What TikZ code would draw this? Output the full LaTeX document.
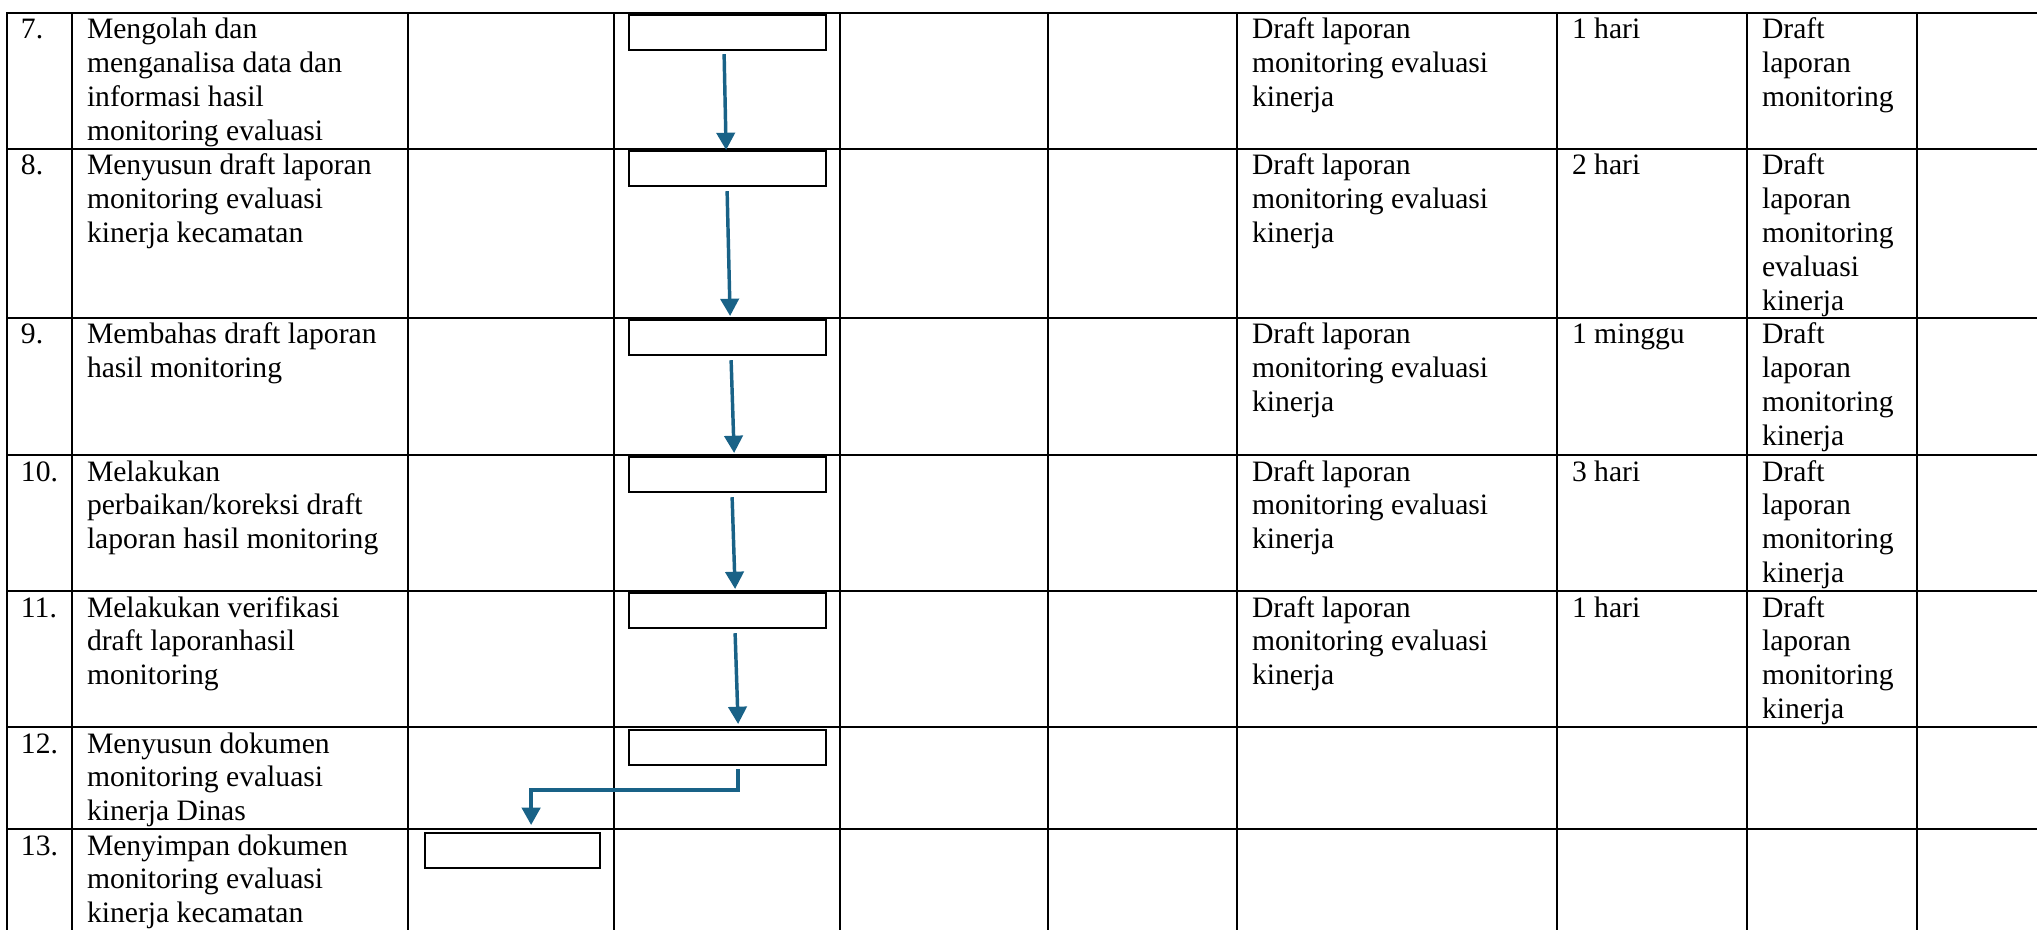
\documentclass[tikz,border=0pt]{standalone}
\usepackage{fontspec}
\setmainfont{Liberation Serif}
\usetikzlibrary{arrows.meta}
\newdimen\pxu
\pxu=0.405pt
\definecolor{flowblue}{RGB}{25,98,135}
\newcommand\celltxt[1]{\parbox[t]{160pt}{\raggedright #1}}
\begin{document}
\begin{tikzpicture}[x=0.405pt,y=-0.405pt,
  grid/.style={line width=1pt,black},
  txt/.style={anchor=base west,inner sep=0pt,outer sep=0pt,font=\fontsize{12}{13.75}\selectfont},
  pbox/.style={draw=black,line width=0.9pt,fill=white,rectangle,inner sep=0pt,anchor=north west,minimum height=35\pxu},
  arr/.style={draw=flowblue,line width=1.4pt,-{Triangle[width=7.4pt,length=7pt]}}]
\useasboundingbox (0,0) rectangle (2037,930);
% table grid
\foreach \yy in {13,149,318,455,591,727,829}
  \draw[grid] (7,\yy) -- (2045,\yy);
\foreach \xx in {7,72,408,614,840,1048,1237,1557,1747,1917}
  \draw[grid] (\xx,12.3) -- (\xx,940);
% row 7
\node[txt] (n7) at (21,39) {\celltxt{7.}};
\node[txt] (t7) at (87,39) {\celltxt{Mengolah dan\\menganalisa data dan\\informasi hasil\\monitoring evaluasi}};
\node[txt] (o7) at (1252,39) {\celltxt{Draft laporan\\monitoring evaluasi\\kinerja}};
\node[txt] (w7) at (1572,39) {\celltxt{1 hari}};
\node[txt] (r7) at (1762,39) {\celltxt{Draft\\laporan\\monitoring}};
% row 8
\node[txt] (n8) at (21,175) {\celltxt{8.}};
\node[txt] (t8) at (87,175) {\celltxt{Menyusun draft laporan\\monitoring evaluasi\\kinerja kecamatan}};
\node[txt] (o8) at (1252,175) {\celltxt{Draft laporan\\monitoring evaluasi\\kinerja}};
\node[txt] (w8) at (1572,175) {\celltxt{2 hari}};
\node[txt] (r8) at (1762,175) {\celltxt{Draft\\laporan\\monitoring\\evaluasi\\kinerja}};
% row 9
\node[txt] (n9) at (21,344) {\celltxt{9.}};
\node[txt] (t9) at (87,344) {\celltxt{Membahas draft laporan\\hasil monitoring}};
\node[txt] (o9) at (1252,344) {\celltxt{Draft laporan\\monitoring evaluasi\\kinerja}};
\node[txt] (w9) at (1572,344) {\celltxt{1 minggu}};
\node[txt] (r9) at (1762,344) {\celltxt{Draft\\laporan\\monitoring\\kinerja}};
% row 10
\node[txt] (n10) at (21,481) {\celltxt{10.}};
\node[txt] (t10) at (87,481) {\celltxt{Melakukan\\perbaikan/koreksi draft\\laporan hasil monitoring}};
\node[txt] (o10) at (1252,481) {\celltxt{Draft laporan\\monitoring evaluasi\\kinerja}};
\node[txt] (w10) at (1572,481) {\celltxt{3 hari}};
\node[txt] (r10) at (1762,481) {\celltxt{Draft\\laporan\\monitoring\\kinerja}};
% row 11
\node[txt] (n11) at (21,617) {\celltxt{11.}};
\node[txt] (t11) at (87,617) {\celltxt{Melakukan verifikasi\\draft laporanhasil\\monitoring}};
\node[txt] (o11) at (1252,617) {\celltxt{Draft laporan\\monitoring evaluasi\\kinerja}};
\node[txt] (w11) at (1572,617) {\celltxt{1 hari}};
\node[txt] (r11) at (1762,617) {\celltxt{Draft\\laporan\\monitoring\\kinerja}};
% row 12
\node[txt] (n12) at (21,753) {\celltxt{12.}};
\node[txt] (t12) at (87,753) {\celltxt{Menyusun dokumen\\monitoring evaluasi\\kinerja Dinas}};
% row 13
\node[txt] (n13) at (21,855) {\celltxt{13.}};
\node[txt] (t13) at (87,855) {\celltxt{Menyimpan dokumen\\monitoring evaluasi\\kinerja kecamatan}};
% process boxes
\node[pbox,minimum width=197\pxu] (b7) at (628,14) {};
\node[pbox,minimum width=197\pxu] (b8) at (628,150) {};
\node[pbox,minimum width=197\pxu] (b9) at (628,319) {};
\node[pbox,minimum width=197\pxu] (b10) at (628,456) {};
\node[pbox,minimum width=197\pxu] (b11) at (628,592) {};
\node[pbox,minimum width=197\pxu] (b12) at (628,729) {};
\node[pbox,minimum width=175\pxu] (b13) at (424,832) {};
% connectors
\draw[arr] ([xshift=-3.5\pxu,yshift=-3\pxu]b7.south) -- ([xshift=-1.5\pxu]b8.north);
\draw[arr] ([xshift=-0.5\pxu,yshift=-4\pxu]b8.south) -- ([xshift=2.5\pxu,yshift=3\pxu]b9.north);
\draw[arr] ([xshift=3.5\pxu,yshift=-4\pxu]b9.south) -- ([xshift=6.5\pxu,yshift=3\pxu]b10.north);
\draw[arr] ([xshift=4.5\pxu,yshift=-4\pxu]b10.south) -- ([xshift=7.5\pxu,yshift=3\pxu]b11.north);
\draw[arr] ([xshift=7.5\pxu,yshift=-4\pxu]b11.south) -- ([xshift=10.5\pxu,yshift=5\pxu]b12.north);
\draw[arr] ([xshift=10.5\pxu,yshift=-3\pxu]b12.south) -- ++(0,21) -| ([xshift=18.5\pxu,yshift=7\pxu]b13.north);
\end{tikzpicture}
\end{document}
